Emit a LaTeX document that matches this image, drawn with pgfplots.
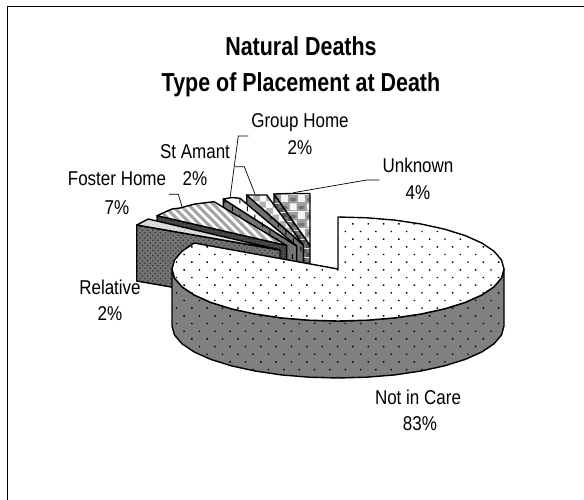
\documentclass[border=0pt]{standalone}
\usepackage{fontspec}
\setmainfont{Liberation Sans}
\usepackage{graphicx}
\usepackage{pgfplots}
\usepackage{pgfplotstable}
\pgfplotsset{compat=1.18}
\usetikzlibrary{patterns,patterns.meta}

% big checker with ovals (Unknown)
\pgfdeclarepatterninherentlycolored{unktop}{\pgfpointorigin}{\pgfpoint{17pt}{17pt}}{\pgfpoint{17pt}{17pt}}{
  \pgfsetfillcolor{black!38}\pgfpathrectangle{\pgfpointorigin}{\pgfpoint{17pt}{17pt}}\pgfusepath{fill}
  \pgfsetfillcolor{black!4}
  \pgfpathrectangle{\pgfpoint{1pt}{1pt}}{\pgfpoint{7pt}{7pt}}
  \pgfpathrectangle{\pgfpoint{9.5pt}{9.5pt}}{\pgfpoint{7pt}{7pt}}\pgfusepath{fill}
  \pgfsetfillcolor{black!55}
  \pgfpathellipse{\pgfpoint{12.75pt}{3.6pt}}{\pgfpoint{3.4pt}{0pt}}{\pgfpoint{0pt}{2pt}}
  \pgfpathellipse{\pgfpoint{4.25pt}{12.1pt}}{\pgfpoint{3.4pt}{0pt}}{\pgfpoint{0pt}{2pt}}\pgfusepath{fill}
}
\pgfdeclarepatterninherentlycolored{unkwall}{\pgfpointorigin}{\pgfpoint{9pt}{9pt}}{\pgfpoint{9pt}{9pt}}{
  \pgfsetfillcolor{black!52}\pgfpathrectangle{\pgfpointorigin}{\pgfpoint{9pt}{9pt}}\pgfusepath{fill}
  \pgfsetfillcolor{black!68}
  \pgfpathrectangle{\pgfpointorigin}{\pgfpoint{4.5pt}{4.5pt}}
  \pgfpathrectangle{\pgfpoint{4.5pt}{4.5pt}}{\pgfpoint{4.5pt}{4.5pt}}\pgfusepath{fill}
}
% checker (Group Home)
\pgfdeclarepatterninherentlycolored{grouptop}{\pgfpointorigin}{\pgfpoint{13pt}{13pt}}{\pgfpoint{13pt}{13pt}}{
  \pgfsetfillcolor{black!30}\pgfpathrectangle{\pgfpointorigin}{\pgfpoint{13pt}{13pt}}\pgfusepath{fill}
  \pgfsetfillcolor{white}
  \pgfpathrectangle{\pgfpointorigin}{\pgfpoint{6.5pt}{6.5pt}}
  \pgfpathrectangle{\pgfpoint{6.5pt}{6.5pt}}{\pgfpoint{6.5pt}{6.5pt}}\pgfusepath{fill}
}
% vertical dashes (St Amant)
\pgfdeclarepatternformonly{dashes}{\pgfpointorigin}{\pgfpoint{15.4pt}{16pt}}{\pgfpoint{15.4pt}{16pt}}{
  \pgfpathrectangle{\pgfpoint{2pt}{1pt}}{\pgfpoint{1pt}{5pt}}
  \pgfpathrectangle{\pgfpoint{9.7pt}{9pt}}{\pgfpoint{1pt}{5pt}}\pgfusepath{fill}
}

\pgfplotstableread{
x y
338 217
366.8 217.8
394.8 220.1
421 224
444.7 229.2
465.2 235.6
481.8 243
494 251.2
501.5 260
504 269
501.5 278
494 286.8
481.8 295
465.2 302.4
444.7 308.8
421 314
394.8 317.9
366.8 320.2
338 321
309.2 320.2
281.2 317.9
255 314
231.3 308.8
210.8 302.4
194.2 295
182 286.8
174.5 278
172 269
174.5 260
182 251.2
194.2 243
338 269
}\maintop
\pgfplotstableread{
x y
504 269
501.5 278
494 286.8
481.8 295
465.2 302.4
444.7 308.8
421 314
394.8 317.9
366.8 320.2
338 321
309.2 320.2
281.2 317.9
255 314
231.3 308.8
210.8 302.4
194.2 295
182 286.8
174.5 278
172 269
172 326
174.5 335
182 343.8
194.2 352
210.8 359.4
231.3 365.8
255 371
281.2 374.9
309.2 377.2
338 378
366.8 377.2
394.8 374.9
421 371
444.7 365.8
465.2 359.4
481.8 352
494 343.8
501.5 335
504 326
}\mainside
\pgfplotstableread{
x y
274 194
292 193.5
310 193.5
310 245.5
}\unktop
\pgfplotstableread{
x y
274 194
310 245.5
310 301
274 250
}\unkwall
\pgfplotstableread{
x y
246.7 195
266.7 195
303.3 245
}\grptop
\pgfplotstableread{
x y
246.7 195
303.3 245
303.3 301
246.7 251
}\grpwall
\pgfplotstableread{
x y
223.3 199
232 197.5
240 198.3
296.7 246
}\amttop
\pgfplotstableread{
x y
223.3 199
296.7 246
296.7 302
223.3 255
}\amtwall
\pgfplotstableread{
x y
157 215.7
172 209
180 208
195 204
214 201.7
286.7 245.5
}\fostop
\pgfplotstableread{
x y
157 215.7
286.7 245.5
286.7 301.5
157 271.7
}\foswall
\pgfplotstableread{
x y
136.7 225
148.3 219
280 250
}\reltop
\pgfplotstableread{
x y
136.7 225
280 250
280 306
136.7 281
}\relwall

% one surface: solid fill, pattern over it, black outline
\newcommand{\surf}[3]{%
  \addplot[draw=none, fill=#1] table {#3} -- cycle;
  \addplot[draw=none, #2] table {#3} -- cycle;
  \addplot[draw=black, line width=1.4pt, line join=round] table {#3} -- cycle;
}

\begin{document}
\begin{tikzpicture}
\begin{axis}[
    width=584pt, height=500pt, scale only axis,
    xmin=0, xmax=584, ymin=0, ymax=500, y dir=reverse,
    hide axis, clip=false]
  \path[use as bounding box] (axis cs:0,0) rectangle (axis cs:584,500);

  % frame
  \addplot[black, line width=1.3pt] coordinates {(7.5,500) (7.5,6.5) (584,6.5)};

  \surf{white}{pattern=unkwall}{\unkwall}
  \surf{white}{pattern=unktop}{\unktop}
  \surf{black!55}{pattern=dashes, pattern color=black}{\grpwall}
  \surf{white}{pattern=grouptop}{\grptop}
  \surf{black!55}{pattern=dashes, pattern color=black}{\amtwall}
  \surf{white}{pattern=dashes, pattern color=black}{\amttop}
  \surf{black!70}{pattern={Dots[distance=3pt, radius=0.6pt]}, pattern color=black}{\foswall}
  \surf{white}{pattern={Lines[angle=-45, distance=6pt, line width=3pt]}, pattern color=black!36}{\fostop}
  \surf{black!55}{pattern={Dots[distance=3.6pt, angle=45, radius=0.9pt]}, pattern color=black!80}{\relwall}
  \surf{black!12}{pattern={Dots[distance=3pt, angle=45, radius=0.5pt]}, pattern color=black!40}{\reltop}
  \surf{black!50}{pattern={Dots[distance=10.85pt, angle=45, radius=1pt]}, pattern color=black}{\mainside}
  \surf{white}{pattern={Dots[distance=10.85pt, angle=45, radius=1pt]}, pattern color=black}{\maintop}

  % leader lines
  \addplot[black, line width=0.7pt] coordinates {(248.3,136) (238.3,136) (230,198.3)};
  \addplot[black, line width=0.7pt] coordinates {(235,166.7) (244.3,166.7) (255,194)};
  \addplot[black, line width=0.7pt] coordinates {(169,194.3) (178.3,194.3) (182.3,207.7)};
  \addplot[black, line width=0.7pt] coordinates {(379.3,180) (366.7,180) (293.3,192.7)};

  % title
  \node at (axis cs:301,46) {\fontsize{26}{30}\selectfont\bfseries\scalebox{.825}[1]{Natural Deaths}};
  \node at (axis cs:301,85) {\fontsize{26}{30}\selectfont\bfseries\scalebox{.825}[1]{Type of Placement at Death}};

  % labels
  \newcommand{\lab}[3]{\node at (axis cs:#1,#2) {\fontsize{20}{24}\selectfont\scalebox{.85}[1]{#3}};}
  \lab{300}{123}{Group Home}
  \lab{300}{148}{2\%}
  \lab{195}{152}{St Amant}
  \lab{195}{179}{2\%}
  \lab{117}{179}{Foster Home}
  \lab{117}{208}{7\%}
  \lab{418}{165}{Unknown}
  \lab{418}{193}{4\%}
  \lab{110}{287}{Relative}
  \lab{110}{314}{2\%}
  \lab{418}{397}{Not in Care}
  \lab{420}{424}{83\%}
\end{axis}
\end{tikzpicture}
\end{document}
